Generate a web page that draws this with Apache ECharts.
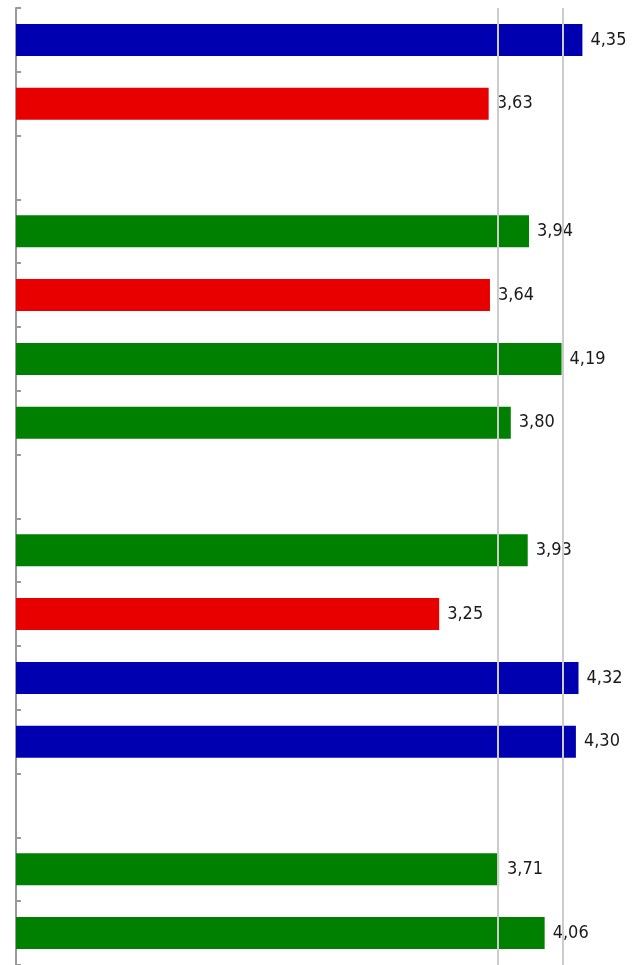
<!DOCTYPE html>
<html>
<head>
<meta charset="utf-8">
<script src="https://cdn.jsdelivr.net/npm/echarts@6/dist/echarts.min.js"></script>
<style>
html,body{margin:0;padding:0;background:#fff;}
#chart{width:641px;height:965px;}
</style>
</head>
<body>
<div id="chart"></div>
<script>
const categories = ['1','2','3','4','5','6','7','8','9','10','11','12','13','14','15'];
const values = [4.35, 3.63, null, 3.94, 3.64, 4.19, 3.80, null, 3.93, 3.25, 4.32, 4.30, null, 3.71, 4.06];
const groups = ['A','B',null,'C','B','C','C',null,'C','B','A','A',null,'C','C'];
const referenceLines = [3.7, 4.2];

const groupColors = {A:'#0000B0', B:'#E80000', C:'#008000'};

const chart = echarts.init(document.getElementById('chart'), null, {renderer:'canvas'});
const fontFamily = '"DejaVu Sans Condensed","Liberation Sans Narrow",sans-serif';

chart.setOption({
  animation:false,
  grid:{left:16, right:0, top:8, height:960, containLabel:false},
  xAxis:{
    type:'value', min:0, max:4.8,
    axisLine:{show:false}, axisTick:{show:false}, axisLabel:{show:false}, splitLine:{show:false}
  },
  yAxis:{
    type:'category', inverse:true, data:categories, offset:1,
    axisLine:{show:true, lineStyle:{color:'#999999', width:2}},
    axisTick:{show:true, inside:true, length:5, lineStyle:{color:'#999999', width:2}},
    axisLabel:{show:false}, splitLine:{show:false}
  },
  series:[{
    type:'bar',
    barWidth:32,
    data: values.map((v,i)=> v==null ? null : {value:v, itemStyle:{color:groupColors[groups[i]]}}),
    label:{
      show:true, position:'right', distance:8,
      fontFamily:fontFamily, fontSize:18, color:'#1a1a1a',
      formatter:p=> p.value==null ? '' : p.value.toFixed(2).replace('.', ',')
    },
    markLine:{
      silent:true, symbol:'none', z:10,
      label:{show:false},
      lineStyle:{color:'#cccccc', width:2, type:'solid'},
      data: referenceLines.map(v=>({xAxis:v}))
    }
  }]
});
</script>
</body>
</html>
